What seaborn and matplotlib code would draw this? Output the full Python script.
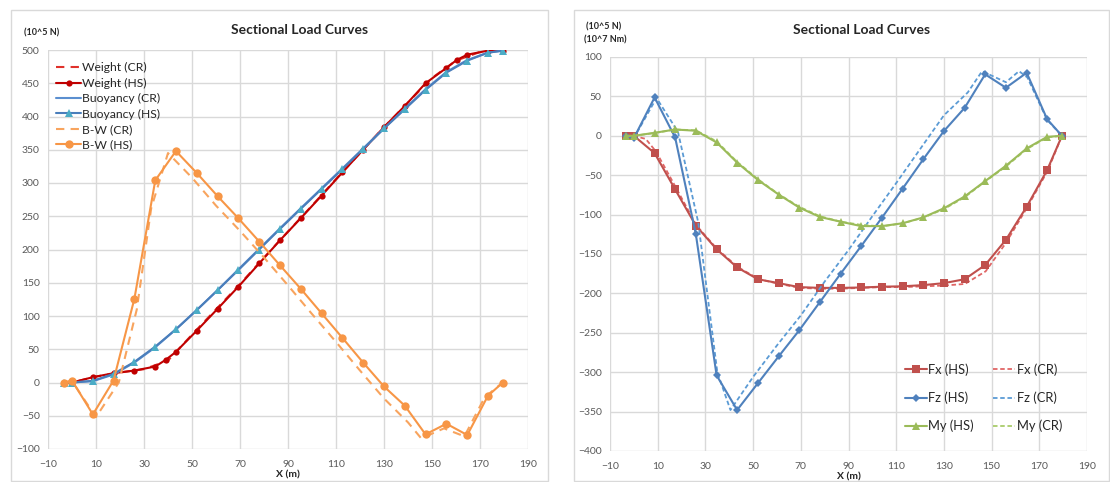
# plot.py: sectional load curves (weight / buoyancy / B-W and Fx / Fz / My), HS vs CR.

import matplotlib
matplotlib.use('Agg')
import matplotlib.pyplot as plt
import seaborn as sns
from matplotlib.patches import Rectangle


# Stations along the hull (m)
stations = [-3.2, 0, 8.7, 17.3, 26.0, 34.7, 43.3, 52.0, 60.7, 69.3, 78.0, 86.7,
            95.3, 104.0, 112.7, 121.3, 130.0, 138.7, 147.3, 156.0, 164.7, 173.3, 179.5]

# Left chart (10^5 N)
weight_hs_x = [-3.2, 0, 8.7, 17.3, 26.0, 34.7, 39.0, 43.3, 52.0, 60.7, 69.3, 78.0, 86.7,
               95.3, 104.0, 112.7, 121.3, 130.0, 138.7, 147.3, 156.0, 160.3, 164.7, 173.3, 179.5]
weight_hs = [0, 0, 8, 14, 18, 24, 34, 46, 78, 111, 144, 179, 214,
             247, 281, 316, 350, 384, 416, 450, 473, 485, 493, 499, 499]
weight_cr_x = [-3.2, 0, 10, 20, 30, 40, 50, 60, 70, 80, 90, 100, 110, 120, 130, 140, 150, 160, 170, 179.5]
weight_cr = [0, 0, 9, 15, 20, 33, 72, 110, 148, 188, 227, 266, 306, 345, 384, 421, 458, 484, 497, 499]
buoy_hs = [0, 0, 2.5, 13, 31, 54, 80, 109, 139, 169, 200, 231,
           261, 291, 321, 351, 382, 411, 440, 466, 484, 496, 499]
buoy_cr = [0, 0, 2, 12, 30, 53, 80, 109, 139, 170, 201, 232,
           262, 292, 322, 352, 382, 412, 441, 467, 485, 496, 499]
bw_hs = [0, 3, -48, 3, 126, 304, 348, 315, 280, 247, 212, 176,
         141, 104, 67, 30, -6, -35, -78, -62, -79, -20, 0]
bw_cr_x = [-3.2, 0, 10, 19.5, 27, 33, 40, 50, 60, 70, 80, 90, 100, 110, 120, 130,
           140, 145.5, 155, 163.5, 172, 179.5]
bw_cr = [0, 2, -52, 0, 110, 262, 345, 308, 266, 228, 188, 146, 103, 61, 18, -24,
         -60, -84, -69, -81, -22, 0]

# Right chart (10^5 N, 10^7 Nm)
fx_hs = [0, 0, -22, -68, -114, -144, -167, -182, -187, -192, -193, -193,
         -192.5, -191.5, -191, -189.5, -187, -182, -164, -132, -90, -43.5, 0]
fx_cr_x = [-3.2, 0, 5, 9.3, 17.7, 26.3, 35, 43.8, 52.5, 61, 69.7, 78, 86.7, 95.6,
           104.3, 113, 121.8, 130.2, 138.8, 147.5, 156, 164.7, 173.4, 179.5]
fx_cr = [0, 0, -4, -20, -66, -114, -144, -167, -182, -188, -193, -194, -194, -193,
         -192, -192, -191, -190, -188, -172, -136, -92, -45, 0]
fz_hs = [0, -3, 48.7, -2, -125, -304, -348, -314, -280, -247, -211, -175,
         -140, -104, -67, -30, 6, 35.5, 78, 61, 80, 21, 0]
fz_cr_x = [-3.2, 0, 9.5, 18.5, 27, 35, 40.5, 50, 60, 70, 80, 90, 100, 110, 120,
           130, 140, 146, 156, 161.5, 165, 173.3, 179.5]
fz_cr = [0, -3, 48, 5, -110, -300, -348, -306, -266, -228, -185, -145, -102, -60,
         -17, 26, 55, 82, 68, 82, 74, 20, 0]
my_hs = [0, 0, 3.8, 8, 6.4, -8.4, -34, -56, -74.5, -91, -103, -109,
         -114.6, -114.6, -111, -103.6, -92, -77, -57.5, -38, -16, -1.3, 0]
my_cr = [0, 0, 3.5, 8, 7, -7, -33, -55, -74, -90, -102, -109,
         -113, -115, -111, -104, -93, -78, -58, -39, -17, -2, 0]

x_ticks = list(range(-10, 191, 20))


sns.set_theme(style='white')
plt.rcParams['font.family'] = ['Lato', 'DejaVu Sans']

W, H = 1110, 482
fig = plt.figure(figsize=(W / 100, H / 100), dpi=100)

# chart area borders
fig.patches.append(Rectangle((11 / W, 1 / H), 537 / W, 471 / H, transform=fig.transFigure,
                             fill=False, edgecolor='#D9D9D9', lw=1))
fig.patches.append(Rectangle((574 / W, 1 / H), 535 / W, 471 / H, transform=fig.transFigure,
                             fill=False, edgecolor='#D9D9D9', lw=1))


def px_axes(x0, x1, y0, y1):
    return fig.add_axes([x0 / W, (H - y1) / H, (x1 - x0) / W, (y1 - y0) / H])


def style_axes(ax, ylim, yticks):
    ax.set_xlim(-10, 190)
    ax.set_ylim(*ylim)
    ax.set_xticks(x_ticks)
    ax.set_yticks(yticks)
    ax.grid(True, color='#D9D9D9', lw=1)
    for s in ax.spines.values():
        s.set_visible(False)
    ax.tick_params(axis='both', length=0, labelsize=7.5, labelcolor='#595959')
    ax.tick_params(axis='x', pad=8)
    ax.tick_params(axis='y', pad=6)
    ax.set_xlabel('X (m)', fontsize=7.5, fontweight='bold', labelpad=1)
    ax.set_ylabel('')


def line(ax, x, y, color, label, ls='-', marker=None, ms=5, lw=1.5):
    sns.lineplot(x=x, y=y, ax=ax, color=color, linestyle=ls, marker=marker, markersize=ms,
                 markeredgewidth=0, lw=lw, label=label, sort=False, estimator=None)


# Left chart
ax1 = px_axes(48, 528, 50, 449)
line(ax1, weight_cr_x, weight_cr, '#E0312B', 'Weight (CR)', ls=(0, (4, 3)))
line(ax1, weight_hs_x, weight_hs, '#C00000', 'Weight (HS)', marker='o', ms=4.5)
line(ax1, stations, buoy_cr, '#5B8FD0', 'Buoyancy (CR)')
line(ax1, stations, buoy_hs, '#4A7EBB', 'Buoyancy (HS)', marker='^', ms=6)
ax1.lines[-1].set_markerfacecolor('#4BACC6')
line(ax1, bw_cr_x, bw_cr, '#F8A45E', 'B-W (CR)', ls=(0, (4, 3)))
line(ax1, stations, bw_hs, '#F79646', 'B-W (HS)', marker='o', ms=6)
style_axes(ax1, (-100, 500), list(range(-100, 501, 50)))
ax1.legend(loc='upper left', bbox_to_anchor=(0.0, 0.99), frameon=False, fontsize=8.7,
           handlelength=2.0, handletextpad=0.1, labelspacing=0.36, borderpad=0.2)

# Right chart
ax2 = px_axes(610, 1087, 57, 451)
line(ax2, fx_cr_x, fx_cr, '#E06666', 'Fx (CR)', ls=(0, (2.5, 1.5)), lw=1.3)
line(ax2, stations, fx_hs, '#C0504D', 'Fx (HS)', marker='s', ms=5.5)
line(ax2, fz_cr_x, fz_cr, '#5B9BD5', 'Fz (CR)', ls=(0, (2.5, 1.5)), lw=1.3)
line(ax2, stations, fz_hs, '#4F81BD', 'Fz (HS)', marker='D', ms=4)
line(ax2, stations, my_cr, '#A9CC6A', 'My (CR)', ls=(0, (2.5, 1.5)), lw=1.3)
line(ax2, stations, my_hs, '#9BBB59', 'My (HS)', marker='^', ms=6)
style_axes(ax2, (-400, 100), list(range(-400, 101, 50)))
h, l = ax2.get_legend_handles_labels()
order = [l.index(n) for n in ['Fx (HS)', 'Fz (HS)', 'My (HS)', 'Fx (CR)', 'Fz (CR)', 'My (CR)']]
ax2.legend([h[i] for i in order], [l[i] for i in order], ncol=2, loc='lower left',
           bbox_to_anchor=(0.6, 0.025), frameon=False, fontsize=9.3, handlelength=1.7,
           handletextpad=0.1, labelspacing=1.2, columnspacing=1.5, borderpad=0.2)

# Titles and unit labels
fig.text(300 / W, 1 - 30 / H, 'Sectional Load Curves', ha='center', va='center',
         fontsize=10, fontweight='bold')
fig.text(862 / W, 1 - 30 / H, 'Sectional Load Curves', ha='center', va='center',
         fontsize=10, fontweight='bold')
fig.text(24 / W, 1 - 33 / H, '(10^5 N)', ha='left', va='center', fontsize=6.5, fontweight='bold')
fig.text(586 / W, 1 - 27 / H, '(10^5 N)', ha='left', va='center', fontsize=6.5, fontweight='bold')
fig.text(584 / W, 1 - 40 / H, '(10^7 Nm)', ha='left', va='center', fontsize=6.5, fontweight='bold')

plt.savefig('out.png', dpi=100)
